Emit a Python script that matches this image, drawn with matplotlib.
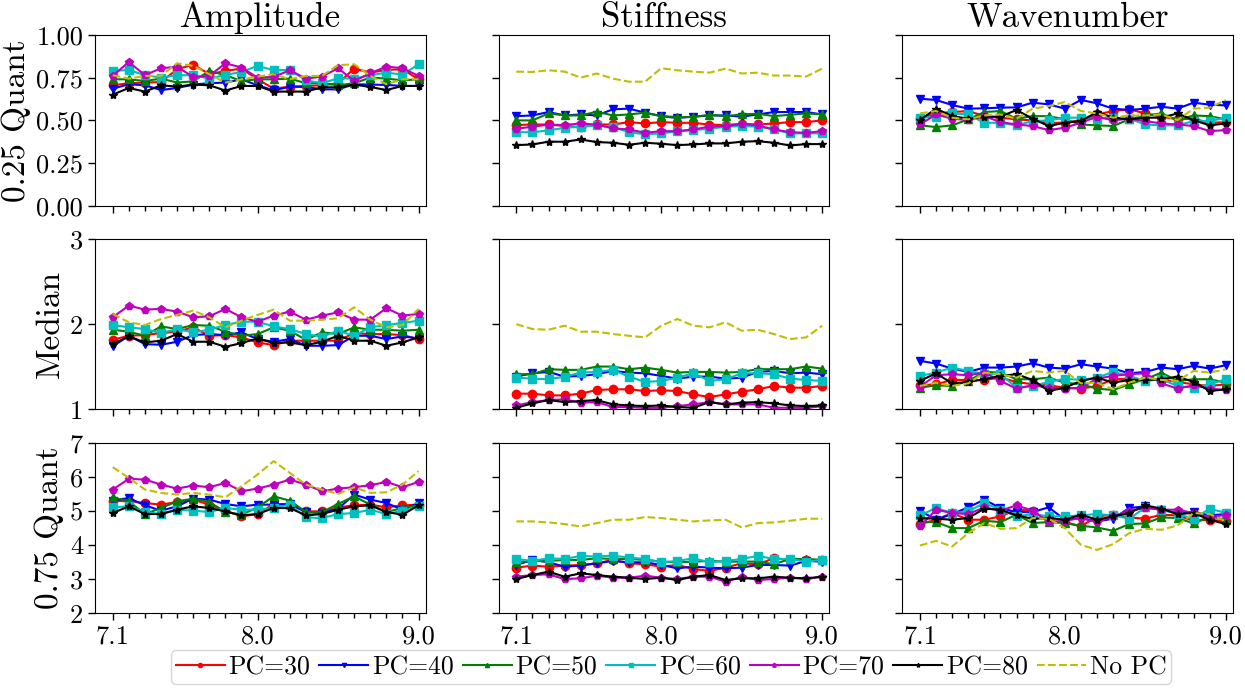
"""Quantile panels of amplitude / stiffness / wavenumber vs. parameter, per PC count."""

import matplotlib
matplotlib.use("Agg")
import matplotlib.pyplot as plt
import numpy as np

plt.rcParams["font.family"] = "serif"
plt.rcParams["font.serif"] = ["cmr10", "DejaVu Serif"]
plt.rcParams["mathtext.fontset"] = "cm"
plt.rcParams["axes.formatter.use_mathtext"] = True

x = np.round(np.arange(7.1, 9.05, 0.1), 1)
xtick_major = [7.1, 8.0, 9.0]

labels = ["PC=30", "PC=40", "PC=50", "PC=60", "PC=70", "PC=80", "No PC"]
fmts = ["r-o", "b-v", "g-^", "c-s", "m-p", "k-*", "y--"]

col_titles = ["Amplitude", "Stiffness", "Wavenumber"]
row_labels = ["0.25 Quant", "Median", "0.75 Quant"]

# rows: PC=30, 40, 50, 60, 70, 80, No PC
amp_q25 = [
    [0.706, 0.718, 0.722, 0.725, 0.800, 0.827, 0.771, 0.790, 0.804, 0.741, 0.686, 0.698, 0.702, 0.706, 0.718, 0.804, 0.780, 0.796, 0.800, 0.741],
    [0.686, 0.712, 0.706, 0.678, 0.690, 0.710, 0.718, 0.722, 0.741, 0.706, 0.676, 0.698, 0.696, 0.682, 0.682, 0.712, 0.710, 0.708, 0.702, 0.702],
    [0.741, 0.741, 0.731, 0.745, 0.722, 0.729, 0.790, 0.765, 0.731, 0.741, 0.741, 0.745, 0.718, 0.718, 0.706, 0.718, 0.751, 0.745, 0.735, 0.741],
    [0.790, 0.796, 0.765, 0.751, 0.765, 0.765, 0.745, 0.767, 0.784, 0.820, 0.794, 0.796, 0.735, 0.718, 0.747, 0.745, 0.765, 0.780, 0.769, 0.829],
    [0.761, 0.843, 0.765, 0.806, 0.814, 0.755, 0.761, 0.835, 0.810, 0.751, 0.755, 0.794, 0.745, 0.757, 0.806, 0.731, 0.776, 0.816, 0.806, 0.761],
    [0.651, 0.690, 0.669, 0.706, 0.698, 0.710, 0.706, 0.675, 0.702, 0.702, 0.669, 0.669, 0.669, 0.694, 0.694, 0.710, 0.696, 0.678, 0.702, 0.702],
    [0.765, 0.745, 0.761, 0.761, 0.835, 0.820, 0.771, 0.722, 0.741, 0.757, 0.771, 0.741, 0.761, 0.761, 0.824, 0.829, 0.761, 0.712, 0.741, 0.741],
]
stiff_q25 = [
    [0.473, 0.476, 0.476, 0.467, 0.461, 0.476, 0.476, 0.490, 0.482, 0.490, 0.486, 0.486, 0.475, 0.473, 0.480, 0.476, 0.482, 0.490, 0.490, 0.500],
    [0.525, 0.529, 0.549, 0.529, 0.535, 0.529, 0.565, 0.569, 0.545, 0.525, 0.514, 0.522, 0.529, 0.529, 0.522, 0.535, 0.549, 0.549, 0.549, 0.535],
    [0.500, 0.500, 0.541, 0.529, 0.529, 0.551, 0.529, 0.535, 0.545, 0.525, 0.520, 0.520, 0.533, 0.525, 0.535, 0.539, 0.525, 0.533, 0.541, 0.535],
    [0.431, 0.431, 0.441, 0.457, 0.463, 0.471, 0.461, 0.431, 0.418, 0.424, 0.435, 0.443, 0.451, 0.463, 0.467, 0.463, 0.447, 0.424, 0.424, 0.424],
    [0.451, 0.463, 0.475, 0.473, 0.482, 0.475, 0.453, 0.447, 0.427, 0.437, 0.437, 0.447, 0.463, 0.467, 0.478, 0.471, 0.447, 0.431, 0.427, 0.437],
    [0.355, 0.359, 0.375, 0.375, 0.388, 0.373, 0.369, 0.357, 0.369, 0.363, 0.355, 0.359, 0.365, 0.365, 0.375, 0.378, 0.369, 0.353, 0.361, 0.361],
    [0.786, 0.784, 0.794, 0.786, 0.751, 0.775, 0.745, 0.727, 0.727, 0.806, 0.794, 0.786, 0.780, 0.804, 0.775, 0.780, 0.763, 0.763, 0.757, 0.804],
]
wave_q25 = [
    [0.510, 0.541, 0.549, 0.555, 0.525, 0.516, 0.506, 0.500, 0.486, 0.486, 0.502, 0.535, 0.555, 0.565, 0.541, 0.522, 0.506, 0.510, 0.486, 0.490],
    [0.627, 0.620, 0.590, 0.569, 0.571, 0.575, 0.576, 0.604, 0.594, 0.569, 0.620, 0.600, 0.569, 0.561, 0.569, 0.580, 0.569, 0.604, 0.592, 0.588],
    [0.471, 0.461, 0.471, 0.506, 0.549, 0.555, 0.510, 0.525, 0.525, 0.506, 0.476, 0.471, 0.467, 0.506, 0.529, 0.541, 0.502, 0.529, 0.525, 0.506],
    [0.516, 0.522, 0.541, 0.535, 0.486, 0.486, 0.471, 0.496, 0.500, 0.516, 0.516, 0.510, 0.516, 0.510, 0.476, 0.471, 0.471, 0.496, 0.496, 0.516],
    [0.476, 0.535, 0.510, 0.502, 0.525, 0.490, 0.476, 0.467, 0.443, 0.457, 0.486, 0.522, 0.500, 0.510, 0.496, 0.482, 0.476, 0.467, 0.437, 0.443],
    [0.502, 0.569, 0.525, 0.510, 0.522, 0.522, 0.561, 0.510, 0.467, 0.486, 0.496, 0.549, 0.516, 0.506, 0.516, 0.516, 0.541, 0.502, 0.471, 0.482],
    [0.541, 0.555, 0.516, 0.506, 0.529, 0.535, 0.510, 0.569, 0.584, 0.608, 0.555, 0.541, 0.516, 0.529, 0.529, 0.535, 0.502, 0.569, 0.575, 0.620],
]
amp_med = [
    [1.817, 1.864, 1.872, 1.896, 1.912, 1.963, 1.864, 1.872, 1.845, 1.786, 1.754, 1.806, 1.806, 1.806, 1.806, 1.896, 1.884, 1.884, 1.872, 1.825],
    [1.739, 1.864, 1.766, 1.758, 1.794, 1.872, 1.884, 1.872, 1.904, 1.825, 1.794, 1.825, 1.747, 1.747, 1.754, 1.864, 1.864, 1.825, 1.857, 1.833],
    [1.935, 1.912, 1.864, 1.974, 1.943, 1.990, 1.982, 1.912, 1.864, 1.884, 1.963, 1.923, 1.817, 1.904, 1.884, 1.963, 1.935, 1.935, 1.923, 1.935],
    [1.990, 1.963, 1.943, 1.896, 1.943, 1.904, 1.935, 1.990, 2.029, 2.029, 1.974, 1.943, 1.884, 1.853, 1.923, 1.864, 1.963, 1.990, 2.014, 2.041],
    [2.081, 2.218, 2.171, 2.179, 2.147, 2.081, 2.092, 2.179, 2.081, 2.029, 2.100, 2.147, 2.053, 2.100, 2.139, 2.053, 2.053, 2.187, 2.100, 2.120],
    [1.766, 1.857, 1.786, 1.806, 1.884, 1.794, 1.794, 1.735, 1.778, 1.833, 1.778, 1.786, 1.754, 1.794, 1.864, 1.806, 1.806, 1.747, 1.786, 1.845],
    [2.120, 2.022, 1.990, 2.061, 2.108, 2.159, 2.081, 1.963, 2.041, 2.108, 2.171, 2.041, 2.041, 2.053, 2.069, 2.198, 2.053, 1.963, 1.990, 2.179],
]
stiff_med = [
    [1.185, 1.185, 1.165, 1.165, 1.185, 1.228, 1.236, 1.236, 1.216, 1.224, 1.216, 1.177, 1.145, 1.177, 1.208, 1.236, 1.275, 1.255, 1.255, 1.275],
    [1.385, 1.424, 1.440, 1.385, 1.393, 1.413, 1.452, 1.432, 1.424, 1.393, 1.361, 1.385, 1.385, 1.361, 1.373, 1.440, 1.452, 1.424, 1.432, 1.413],
    [1.413, 1.413, 1.472, 1.464, 1.464, 1.503, 1.503, 1.472, 1.491, 1.464, 1.432, 1.440, 1.440, 1.432, 1.440, 1.472, 1.472, 1.472, 1.503, 1.479],
    [1.373, 1.361, 1.354, 1.385, 1.432, 1.440, 1.464, 1.385, 1.322, 1.334, 1.373, 1.424, 1.334, 1.354, 1.424, 1.424, 1.413, 1.361, 1.346, 1.334],
    [1.047, 1.086, 1.110, 1.118, 1.079, 1.086, 1.028, 1.028, 1.016, 1.020, 1.039, 1.059, 1.086, 1.059, 1.059, 1.059, 1.020, 1.020, 1.016, 1.039],
    [1.020, 1.071, 1.110, 1.086, 1.098, 1.110, 1.059, 1.047, 1.039, 1.047, 1.028, 1.020, 1.086, 1.059, 1.079, 1.086, 1.071, 1.047, 1.039, 1.047],
    [2.000, 1.943, 1.935, 1.982, 1.912, 1.912, 1.884, 1.864, 1.845, 1.982, 2.061, 1.982, 1.963, 2.022, 1.923, 1.935, 1.884, 1.825, 1.845, 1.982],
]
wave_med = [
    [1.283, 1.295, 1.346, 1.346, 1.346, 1.373, 1.322, 1.295, 1.283, 1.255, 1.244, 1.275, 1.354, 1.361, 1.346, 1.354, 1.322, 1.295, 1.275, 1.295],
    [1.570, 1.538, 1.479, 1.440, 1.491, 1.491, 1.503, 1.542, 1.491, 1.479, 1.530, 1.503, 1.479, 1.424, 1.440, 1.491, 1.472, 1.511, 1.479, 1.519],
    [1.255, 1.283, 1.275, 1.334, 1.440, 1.432, 1.354, 1.354, 1.373, 1.314, 1.295, 1.244, 1.228, 1.295, 1.354, 1.432, 1.334, 1.354, 1.354, 1.314],
    [1.393, 1.432, 1.491, 1.452, 1.413, 1.413, 1.255, 1.275, 1.322, 1.361, 1.346, 1.373, 1.440, 1.393, 1.334, 1.354, 1.275, 1.255, 1.295, 1.354],
    [1.267, 1.401, 1.413, 1.401, 1.432, 1.334, 1.244, 1.283, 1.255, 1.244, 1.255, 1.361, 1.393, 1.413, 1.424, 1.306, 1.244, 1.283, 1.244, 1.228],
    [1.334, 1.424, 1.306, 1.322, 1.354, 1.393, 1.413, 1.346, 1.216, 1.255, 1.334, 1.373, 1.314, 1.346, 1.346, 1.354, 1.385, 1.322, 1.216, 1.236],
    [1.275, 1.314, 1.275, 1.306, 1.432, 1.413, 1.373, 1.452, 1.432, 1.452, 1.306, 1.314, 1.236, 1.314, 1.373, 1.346, 1.334, 1.452, 1.432, 1.471],
]
amp_q75 = [
    [5.301, 5.281, 5.232, 5.183, 5.261, 5.330, 5.183, 5.006, 4.839, 4.908, 5.202, 5.183, 4.986, 4.986, 5.104, 5.163, 5.183, 5.104, 5.163, 5.183],
    [5.301, 5.379, 5.163, 5.006, 5.134, 5.360, 5.330, 5.202, 5.134, 5.183, 5.183, 5.202, 4.967, 4.937, 5.065, 5.477, 5.330, 5.232, 5.035, 5.232],
    [5.399, 5.281, 4.908, 5.084, 5.281, 5.360, 5.261, 4.967, 4.888, 5.104, 5.428, 5.301, 4.967, 4.967, 5.202, 5.428, 5.183, 4.967, 5.084, 5.163],
    [5.104, 5.134, 4.967, 4.908, 5.035, 5.006, 4.967, 5.084, 5.035, 5.035, 5.084, 5.183, 4.810, 4.790, 4.908, 4.937, 5.035, 4.908, 5.006, 5.134],
    [5.625, 5.939, 5.919, 5.772, 5.654, 5.743, 5.694, 5.821, 5.576, 5.654, 5.772, 5.919, 5.772, 5.576, 5.654, 5.694, 5.752, 5.851, 5.694, 5.851],
    [4.937, 5.134, 4.908, 4.908, 5.035, 5.134, 5.084, 4.986, 4.868, 4.908, 5.084, 5.084, 4.868, 4.908, 5.035, 5.134, 5.163, 4.967, 4.888, 5.163],
    [6.283, 5.969, 5.625, 5.527, 5.477, 5.527, 5.477, 5.399, 5.723, 6.067, 6.460, 6.116, 5.772, 5.625, 5.497, 5.694, 5.527, 5.546, 5.772, 6.165],
]
stiff_q75 = [
    [3.336, 3.395, 3.365, 3.395, 3.415, 3.464, 3.562, 3.464, 3.434, 3.365, 3.415, 3.297, 3.238, 3.336, 3.464, 3.434, 3.611, 3.562, 3.562, 3.562],
    [3.415, 3.562, 3.493, 3.365, 3.395, 3.464, 3.532, 3.493, 3.493, 3.415, 3.316, 3.365, 3.336, 3.316, 3.336, 3.415, 3.415, 3.395, 3.532, 3.513],
    [3.493, 3.532, 3.532, 3.562, 3.562, 3.611, 3.591, 3.591, 3.562, 3.513, 3.493, 3.513, 3.532, 3.513, 3.513, 3.513, 3.434, 3.591, 3.591, 3.562],
    [3.591, 3.532, 3.611, 3.591, 3.680, 3.660, 3.690, 3.631, 3.591, 3.493, 3.532, 3.611, 3.493, 3.532, 3.591, 3.680, 3.591, 3.591, 3.513, 3.562],
    [3.071, 3.120, 3.140, 3.002, 3.022, 3.100, 3.041, 3.041, 3.100, 3.041, 3.002, 3.071, 3.071, 2.923, 3.071, 2.973, 3.002, 3.041, 3.002, 3.071],
    [3.002, 3.120, 3.218, 3.071, 3.169, 3.120, 3.071, 3.041, 3.002, 3.041, 2.973, 3.071, 3.120, 2.973, 3.022, 3.022, 3.071, 3.041, 3.022, 3.071],
    [4.692, 4.692, 4.663, 4.613, 4.544, 4.642, 4.741, 4.741, 4.819, 4.790, 4.741, 4.692, 4.721, 4.741, 4.515, 4.642, 4.663, 4.711, 4.770, 4.770],
]
wave_q75 = [
    [4.613, 4.741, 4.937, 4.741, 4.741, 4.839, 5.035, 5.006, 4.692, 4.672, 4.544, 4.839, 4.888, 4.809, 4.770, 4.888, 4.868, 4.711, 4.741, 4.692],
    [5.006, 4.741, 4.908, 5.104, 5.330, 5.084, 4.967, 4.967, 5.104, 4.741, 4.790, 4.692, 4.770, 5.084, 5.134, 5.035, 4.937, 4.967, 4.868, 4.908],
    [4.672, 4.672, 4.495, 4.495, 4.711, 4.672, 4.888, 4.642, 4.672, 4.642, 4.564, 4.515, 4.416, 4.613, 4.633, 4.809, 4.790, 4.633, 4.839, 4.741],
    [4.868, 5.084, 4.937, 4.986, 5.232, 5.035, 4.839, 4.908, 4.839, 4.839, 4.868, 4.908, 4.868, 4.770, 5.104, 5.035, 4.908, 4.770, 5.065, 4.937],
    [4.544, 5.035, 4.937, 4.908, 5.104, 5.006, 5.163, 5.006, 4.672, 4.711, 4.790, 4.672, 4.839, 5.006, 5.084, 5.035, 5.035, 4.937, 4.809, 4.888],
    [4.790, 4.770, 4.741, 4.790, 5.065, 5.035, 4.868, 4.770, 4.790, 4.741, 4.888, 4.741, 4.839, 4.937, 5.163, 5.065, 4.908, 4.937, 4.741, 4.613],
    [3.984, 4.122, 3.955, 4.348, 4.642, 4.475, 4.495, 4.790, 4.770, 4.495, 4.004, 3.857, 4.024, 4.348, 4.475, 4.446, 4.574, 4.937, 4.908, 4.692],
]

panels = [
    [amp_q25, stiff_q25, wave_q25],
    [amp_med, stiff_med, wave_med],
    [amp_q75, stiff_q75, wave_q75],
]
row_ylims = [(0, 1), (1, 3), (2, 7)]
row_yticks = [
    ([0, 0.25, 0.5, 0.75, 1.0], ["0.00", "0.25", "0.50", "0.75", "1.00"]),
    ([1, 2, 3], ["1", "2", "3"]),
    ([2, 3, 4, 5, 6, 7], ["2", "3", "4", "5", "6", "7"]),
]

fig, axes = plt.subplots(3, 3, figsize=(12.45, 6.89), dpi=100, sharex="col", sharey="row")
fig.subplots_adjust(left=0.0763, right=0.9904, top=0.949, bottom=0.110, wspace=0.22, hspace=0.195)

for r in range(3):
    for c in range(3):
        ax = axes[r, c]
        data = panels[r][c]
        for series, fmt, lab in zip(data, fmts, labels):
            ax.plot(x, series, fmt, lw=1.5, ms=6, label=lab)
        ax.set_ylim(*row_ylims[r])
        ax.set_yticks(row_yticks[r][0])
        if c == 0:
            ax.set_yticklabels(row_yticks[r][1])
            ax.set_ylabel(row_labels[r], fontsize=24)
        ax.set_xlim(6.99, 9.045)
        ax.set_xticks(xtick_major)
        ax.set_xticklabels(["7.1", "8.0", "9.0"])
        ax.set_xticks([v for v in x if v not in xtick_major], minor=True)
        ax.tick_params(which="major", labelsize=19, length=5, width=1)
        ax.tick_params(which="minor", length=3.5, width=1)
        if r == 0:
            ax.set_title(col_titles[c], fontsize=25)

handles, labs = axes[0, 0].get_legend_handles_labels()
fig.legend(handles, labs, loc="lower center", bbox_to_anchor=(0.539, -0.012), ncol=7,
           fontsize=18.5, markerscale=0.5, handlelength=1.9, handletextpad=0.15,
           columnspacing=0.35, borderpad=0.2)

fig.savefig("out.png", dpi=100)
